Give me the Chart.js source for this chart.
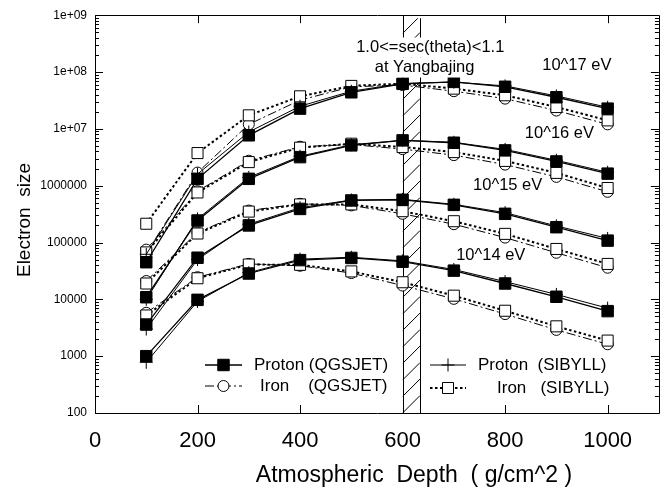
<!DOCTYPE html>
<html>
<head>
<meta charset="utf-8">
<script src="https://cdn.jsdelivr.net/npm/chart.js@4"></script>
<style>
html, body { margin: 0; padding: 0; background: #fff; }
</style>
</head>
<body>
<canvas id="chart" width="668" height="492"></canvas>
<script>
// atmospheric depth (g/cm^2)
var depths = [100, 200, 300, 400, 500, 600, 700, 800, 900, 1000];

// electron size, 10^14 eV
var protonQ14 = [1000, 9800, 28500, 49000, 53500, 46000, 32000, 19000, 11100, 6200];
var protonS14 = [780, 9200, 29500, 51000, 55000, 47500, 33500, 20500, 12200, 7000];
var ironQ14 = [5800, 24500, 42000, 39000, 29000, 17500, 10200, 5500, 2900, 1620];
var ironS14 = [5200, 23500, 41000, 40500, 31000, 20000, 11600, 6300, 3350, 1880];

// 10^15 eV
var protonQ15 = [3600, 54000, 200000, 390000, 550000, 565000, 460000, 320000, 186000, 108000];
var protonS15 = [3000, 50000, 210000, 410000, 560000, 575000, 470000, 335000, 196000, 118000];
var ironQ15 = [21000, 150000, 365000, 480000, 450000, 320000, 210000, 122000, 66000, 36000];
var ironS15 = [19000, 144000, 350000, 468000, 468000, 356000, 237000, 142000, 77000, 42000];

// 10^16 eV
var protonQ16 = [10900, 244000, 1320000, 3180000, 5120000, 6270000, 5700000, 4180000, 2670000, 1630000];
var protonS16 = [10000, 260000, 1400000, 3300000, 5250000, 6300000, 5800000, 4350000, 2800000, 1720000];
var ironQ16 = [75000, 800000, 2750000, 4850000, 5300000, 4400000, 3450000, 2350000, 1430000, 780000];
var ironS16 = [67000, 760000, 2600000, 4670000, 5480000, 4780000, 3900000, 2730000, 1680000, 910000];

// 10^17 eV
var protonQ17 = [45000, 1320000, 7700000, 22700000, 44000000, 62000000, 67000000, 55000000, 36000000, 22700000];
var protonS17 = [62000, 1600000, 8800000, 25000000, 46000000, 63000000, 66500000, 57000000, 38000000, 24000000];
var ironQ17 = [65000, 1700000, 12000000, 32000000, 55000000, 59000000, 46000000, 34000000, 21000000, 12000000];
var ironS17 = [214000, 3750000, 17300000, 37400000, 57000000, 62500000, 51000000, 39000000, 24200000, 14100000];

var xTickValues = [0, 200, 400, 600, 800, 1000];
var yTickValues = [1e9, 1e8, 1e7, 1e6, 1e5, 1e4, 1e3, 1e2];
var yTickLabels = ["1e+09", "1e+08", "1e+07", "1000000", "100000", "10000", "1000", "100"];

var bandFrom = 600, bandTo = 634;

var energyLabels = ["10^14 eV", "10^15 eV", "10^16 eV", "10^17 eV"];
var energyLabelAt = [[772, 59000], [805, 1000000], [906, 8300000], [940, 130000000]];

var xTitle = 'Atmospheric  Depth  ( g/cm^2 )';
var yTitle = 'Electron  size';

var FONT = "'Liberation Sans', Arial, Helvetica, sans-serif";

var styles = {
  protonQ: { label: "Proton (QGSJET)", borderWidth: 1.3, borderDash: [], pointStyle: 'rect', pointRadius: 8.1, fill: '#000', order: 1 },
  protonS: { label: "Proton  (SIBYLL)", borderWidth: 1, borderDash: [], pointStyle: 'cross', pointRadius: 6.5, fill: '#000', order: 2 },
  ironS: { label: "Iron   (SIBYLL)", borderWidth: 2, borderDash: [2.5, 2.5], pointStyle: 'rect', pointRadius: 7.8, fill: '#fff', order: 3 },
  ironQ: { label: "Iron    (QGSJET)", borderWidth: 1, borderDash: [9, 3, 2, 3], pointStyle: 'circle', pointRadius: 5.5, fill: '#fff', order: 4 }
};

function series(values, kind) {
  var st = styles[kind];
  return {
    label: st.label,
    data: depths.map(function (d, i) { return { x: d, y: values[i] }; }),
    borderColor: '#000',
    borderWidth: st.borderWidth,
    borderDash: st.borderDash,
    pointStyle: st.pointStyle,
    pointRadius: st.pointRadius,
    pointBorderWidth: 1,
    pointBorderColor: '#000',
    pointBackgroundColor: st.fill,
    backgroundColor: st.fill,
    tension: 0,
    fill: false,
    order: st.order
  };
}

var datasets = [
  series(ironQ14, 'ironQ'), series(ironQ15, 'ironQ'), series(ironQ16, 'ironQ'), series(ironQ17, 'ironQ'),
  series(ironS14, 'ironS'), series(ironS15, 'ironS'), series(ironS16, 'ironS'), series(ironS17, 'ironS'),
  series(protonS14, 'protonS'), series(protonS15, 'protonS'), series(protonS16, 'protonS'), series(protonS17, 'protonS'),
  series(protonQ14, 'protonQ'), series(protonQ15, 'protonQ'), series(protonQ16, 'protonQ'), series(protonQ17, 'protonQ')
];

// hatched band for the Yangbajing depth range
var bandPlugin = {
  id: 'band',
  beforeDatasetsDraw: function (chart) {
    var ctx = chart.ctx, a = chart.chartArea, xs = chart.scales.x;
    var x0 = xs.getPixelForValue(bandFrom), x1 = xs.getPixelForValue(bandTo);
    var top = a.top + 3;
    ctx.save();
    ctx.beginPath();
    ctx.rect(x0, top, x1 - x0, a.bottom - top);
    ctx.clip();
    ctx.strokeStyle = '#000';
    ctx.lineWidth = 1;
    ctx.beginPath();
    for (var y = a.bottom; y > top - 40; y -= 16.5) {
      ctx.moveTo(x0, y);
      ctx.lineTo(x1, y - (x1 - x0));
    }
    ctx.stroke();
    ctx.restore();
    ctx.save();
    ctx.strokeStyle = '#000';
    ctx.lineWidth = 1;
    ctx.beginPath();
    ctx.moveTo(Math.round(x0) + 0.5, top); ctx.lineTo(Math.round(x0) + 0.5, a.bottom);
    ctx.moveTo(Math.round(x1) + 0.5, top); ctx.lineTo(Math.round(x1) + 0.5, a.bottom);
    ctx.stroke();
    ctx.restore();
  }
};

function drawSample(ctx, st, x0, x1, y) {
  ctx.save();
  ctx.strokeStyle = '#000';
  ctx.lineWidth = st.borderWidth;
  ctx.setLineDash(st.borderDash);
  ctx.beginPath();
  ctx.moveTo(x0, y); ctx.lineTo(x1, y);
  ctx.stroke();
  ctx.restore();
  ctx.save();
  ctx.strokeStyle = '#000';
  ctx.fillStyle = st.fill;
  ctx.lineWidth = 1;
  Chart.helpers.drawPoint(ctx, { pointStyle: st.pointStyle, radius: st.pointRadius, rotation: 0, borderWidth: 1 }, (x0 + x1) / 2, y);
  ctx.restore();
}

var framePlugin = {
  id: 'frame',
  afterDraw: function (chart) {
    var ctx = chart.ctx, a = chart.chartArea, xs = chart.scales.x, ys = chart.scales.y;
    ctx.save();
    ctx.strokeStyle = '#000';
    ctx.lineWidth = 1;
    ctx.beginPath();
    ctx.rect(Math.round(a.left) + 0.5, Math.round(a.top) + 0.5, Math.round(a.right - a.left), Math.round(a.bottom - a.top));
    // inward ticks
    xTickValues.forEach(function (v) {
      var px = Math.round(xs.getPixelForValue(v)) + 0.5;
      ctx.moveTo(px, a.bottom); ctx.lineTo(px, a.bottom - 8);
      ctx.moveTo(px, a.top); ctx.lineTo(px, a.top + 8);
    });
    for (var e = 2; e < 9; e++) {
      for (var m = 1; m < 10; m++) {
        var py = Math.round(ys.getPixelForValue(m * Math.pow(10, e))) + 0.5;
        var len = m === 1 ? 8 : 4;
        ctx.moveTo(a.left, py); ctx.lineTo(a.left + len, py);
        ctx.moveTo(a.right, py); ctx.lineTo(a.right - len, py);
      }
    }
    ctx.stroke();

    // axis titles
    ctx.fillStyle = '#000';
    ctx.textAlign = 'center';
    ctx.textBaseline = 'middle';
    ctx.font = '23px ' + FONT;
    ctx.fillText(xTitle, 414, 476);
    ctx.save();
    ctx.translate(25, 220);
    ctx.rotate(-Math.PI / 2);
    ctx.font = '19px ' + FONT;
    ctx.fillText(yTitle, 0, 0);
    ctx.restore();

    // annotations
    ctx.font = '16.5px ' + FONT;
    energyLabels.forEach(function (t, i) {
      ctx.fillText(t, xs.getPixelForValue(energyLabelAt[i][0]), ys.getPixelForValue(energyLabelAt[i][1]));
    });
    var notes = [["1.0<=sec(theta)<1.1", 654, 2.7e8], ["at Yangbajing", 643, 1.2e8]];
    notes.forEach(function (n) {
      var nx = xs.getPixelForValue(n[1]), ny = ys.getPixelForValue(n[2]);
      var w = ctx.measureText(n[0]).width;
      ctx.fillStyle = '#fff';
      ctx.fillRect(nx - w / 2 - 1, ny - 10, w + 2, 20);
      ctx.fillStyle = '#000';
      ctx.fillText(n[0], nx, ny);
    });

    // legend
    ctx.textAlign = 'left';
    ctx.font = '17px ' + FONT;
    var rows = [
      [styles.protonQ, 205, 242, 254, 365],
      [styles.ironQ, 205, 242, 260, 386],
      [styles.protonS, 430, 466, 478, 365],
      [styles.ironS, 430, 466, 497, 388]
    ];
    rows.forEach(function (r) {
      drawSample(ctx, r[0], r[1], r[2], r[4]);
      ctx.fillStyle = '#000';
      ctx.fillText(r[0].label, r[3], r[4]);
    });
    ctx.restore();
  }
};

new Chart(document.getElementById('chart'), {
  type: 'line',
  data: { datasets: datasets },
  plugins: [bandPlugin, framePlugin],
  options: {
    responsive: false,
    animation: false,
    layout: { padding: { top: 15, right: 6, left: 0, bottom: 0 } },
    plugins: { legend: { display: false }, tooltip: { enabled: false } },
    scales: {
      x: {
        type: 'linear',
        min: 0,
        max: 1100,
        grid: { display: false, drawTicks: false },
        border: { display: false },
        afterBuildTicks: function (scale) {
          scale.ticks = xTickValues.map(function (v) { return { value: v }; });
        },
        afterFit: function (scale) { scale.height = 79; },
        ticks: {
          color: '#000',
          padding: 15,
          maxRotation: 0,
          font: { family: FONT, size: 22 },
          callback: function (v) { return String(v); }
        }
      },
      y: {
        type: 'logarithmic',
        min: 100,
        max: 1e9,
        grid: { display: false, drawTicks: false },
        border: { display: false },
        afterBuildTicks: function (scale) {
          scale.ticks = yTickValues.map(function (v) { return { value: v }; });
        },
        afterFit: function (scale) { scale.width = 95; },
        ticks: {
          color: '#000',
          padding: 8,
          font: { family: FONT, size: 12 },
          callback: function (v, i) { return yTickLabels[i]; }
        }
      }
    }
  }
});
</script>
</body>
</html>
